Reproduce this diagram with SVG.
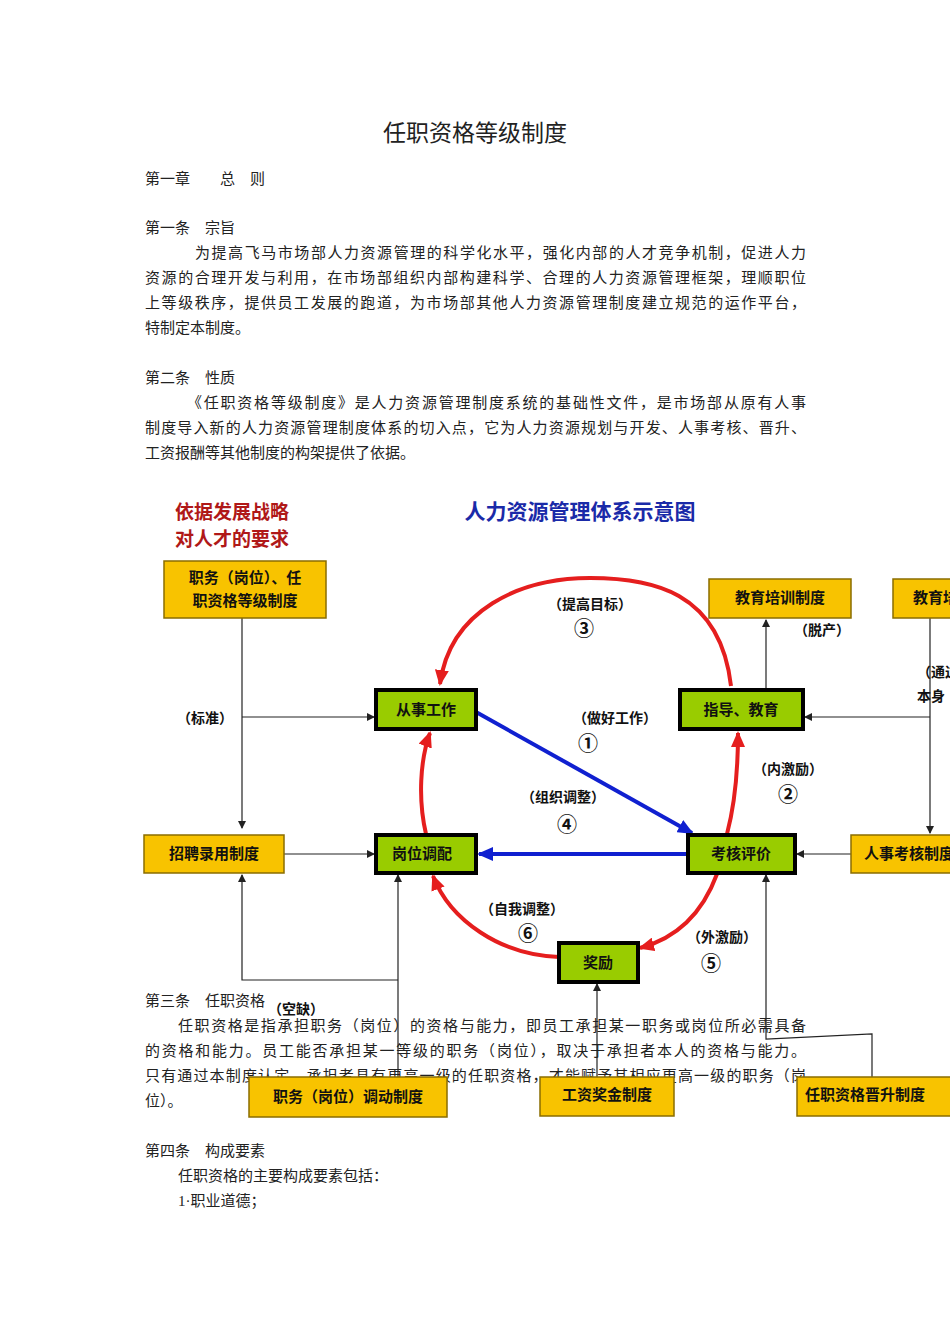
<svg xmlns="http://www.w3.org/2000/svg" width="950" height="1344" viewBox="0 0 950 1344">
<style>
.b{font-family:"Liberation Serif","Noto Sans CJK SC",serif;font-size:15px;fill:#222}
.y{fill:#f8c300;stroke:#8a6d00;stroke-width:1.5}
.g{fill:#99cc00;stroke:#000;stroke-width:4}
.t{font-family:"Noto Sans CJK SC",sans-serif;font-weight:bold;font-size:15px;fill:#111;text-anchor:middle}
.l{font-family:"Noto Sans CJK SC",sans-serif;font-weight:bold;font-size:14px;fill:#111;text-anchor:middle}
.k{stroke:#222;stroke-width:1.2;fill:none}
.r{stroke:#e51e1e;stroke-width:4;fill:none}
.bl{stroke:#1020d0;stroke-width:4;fill:none}
</style>
<defs>
<marker id="ak" markerWidth="8" markerHeight="8" refX="7" refY="4" orient="auto" markerUnits="userSpaceOnUse"><path d="M0,0L8,4L0,8z" fill="#222"/></marker>
<marker id="ar" markerWidth="16" markerHeight="14" refX="14" refY="7" orient="auto" markerUnits="userSpaceOnUse"><path d="M0,0L16,7L0,14z" fill="#e51e1e"/></marker>
<marker id="ab" markerWidth="16" markerHeight="14" refX="14" refY="7" orient="auto" markerUnits="userSpaceOnUse"><path d="M0,0L16,7L0,14z" fill="#1020d0"/></marker>
</defs>
<rect width="950" height="1344" fill="#fff"/>
<text x="475" y="141" text-anchor="middle" style="font-family:'Noto Sans CJK SC',sans-serif;font-size:23px;fill:#222">任职资格等级制度</text>
<g class="b">
<text x="145" y="184">第一章　　总　则</text>
<text x="145" y="233">第一条　宗旨</text>
<text x="195" y="258" textLength="611">为提高飞马市场部人力资源管理的科学化水平，强化内部的人才竞争机制，促进人力</text>
<text x="145" y="283" textLength="661">资源的合理开发与利用，在市场部组织内部构建科学、合理的人力资源管理框架，理顺职位</text>
<text x="145" y="308" textLength="661">上等级秩序，提供员工发展的跑道，为市场部其他人力资源管理制度建立规范的运作平台，</text>
<text x="145" y="333">特制定本制度。</text>
<text x="145" y="383">第二条　性质</text>
<text x="187" y="408" textLength="619">《任职资格等级制度》是人力资源管理制度系统的基础性文件，是市场部从原有人事</text>
<text x="145" y="433" textLength="661">制度导入新的人力资源管理制度体系的切入点，它为人力资源规划与开发、人事考核、晋升、</text>
<text x="145" y="458">工资报酬等其他制度的构架提供了依据。</text>
<text x="145" y="1006">第三条　任职资格</text>
<text x="178" y="1031" textLength="628">任职资格是指承担职务（岗位）的资格与能力，即员工承担某一职务或岗位所必需具备</text>
<text x="145" y="1056" textLength="661">的资格和能力。员工能否承担某一等级的职务（岗位），取决于承担者本人的资格与能力。</text>
<text x="145" y="1081" textLength="661">只有通过本制度认定，承担者具有更高一级的任职资格，才能赋予其相应更高一级的职务（岗</text>
<text x="145" y="1106">位）。</text>
<text x="145" y="1156">第四条　构成要素</text>
<text x="178" y="1181">任职资格的主要构成要素包括：</text>
<text x="178" y="1206">1·职业道德；</text>
</g>
<text x="232" y="519" style="font-family:'Noto Sans CJK SC',sans-serif;font-weight:bold;font-size:19px;fill:#b01818;text-anchor:middle">依据发展战略</text>
<text x="232" y="546" style="font-family:'Noto Sans CJK SC',sans-serif;font-weight:bold;font-size:19px;fill:#b01818;text-anchor:middle">对人才的要求</text>
<text x="580" y="519" style="font-family:'Noto Sans CJK SC',sans-serif;font-weight:bold;font-size:21px;fill:#1a2aa8;text-anchor:middle">人力资源管理体系示意图</text>
<g id="connectors">
<path class="k" d="M242,618V828" marker-end="url(#ak)"/>
<path class="k" d="M242,717H374" marker-end="url(#ak)"/>
<path class="k" d="M284,854H374" marker-end="url(#ak)"/>
<path class="k" d="M398,980H242V875" marker-end="url(#ak)"/>
<path class="k" d="M398,1077V875" marker-end="url(#ak)"/>
<path class="k" d="M597,1077V984" marker-end="url(#ak)"/>
<path class="k" d="M872,1077V1034L766,1039V875" marker-end="url(#ak)"/>
<path class="k" d="M766,690V620" marker-end="url(#ak)"/>
<path class="k" d="M930,618V833" marker-end="url(#ak)"/>
<path class="k" d="M930,717H805" marker-end="url(#ak)"/>
<path class="k" d="M851,854H797" marker-end="url(#ak)"/>
<path class="r" d="M731,686C720,590 650,578 590,578C520,578 450,610 440,684" marker-end="url(#ar)"/>
<path class="r" d="M426,834C418,800 420,760 430,733" marker-end="url(#ar)"/>
<path class="r" d="M727,834C736,800 738,760 738,733" marker-end="url(#ar)"/>
<path class="r" d="M717,874C700,920 670,940 640,948" marker-end="url(#ar)"/>
<path class="r" d="M559,957C500,955 450,920 433,876" marker-end="url(#ar)"/>
<path class="bl" d="M476,712L692,833" marker-end="url(#ab)"/>
<path class="bl" d="M688,854H479" marker-end="url(#ab)"/>
</g>
<g id="n1"><rect class="y" x="164" y="561" width="162" height="57"/><text class="t" x="245" y="583">职务（岗位）、任</text><text class="t" x="245" y="606">职资格等级制度</text></g>
<g id="n2"><rect class="y" x="709" y="579" width="142" height="39"/><text class="t" x="780" y="603">教育培训制度</text></g>
<g id="n3"><rect class="y" x="893" y="579" width="70" height="39"/><text class="t" x="913" y="603" style="text-anchor:start">教育培训</text></g>
<g id="n4"><rect class="g" x="376" y="690" width="100" height="39"/><text class="t" x="426" y="715">从事工作</text></g>
<g id="n5"><rect class="g" x="680" y="690" width="123" height="39"/><text class="t" x="741" y="715">指导、教育</text></g>
<g id="n6"><rect class="y" x="144" y="835" width="140" height="38"/><text class="t" x="214" y="859">招聘录用制度</text></g>
<g id="n7"><rect class="g" x="376" y="835" width="100" height="38"/><text class="t" x="422" y="859">岗位调配</text></g>
<g id="n8"><rect class="g" x="688" y="835" width="107" height="38"/><text class="t" x="741" y="859">考核评价</text></g>
<g id="n9"><rect class="y" x="851" y="835" width="110" height="38"/><text class="t" x="864" y="859" style="text-anchor:start">人事考核制度</text></g>
<g id="n10"><rect class="g" x="559" y="943" width="79" height="39"/><text class="t" x="598" y="968">奖励</text></g>
<g id="n11"><rect class="y" x="249" y="1077" width="198" height="40"/><text class="t" x="348" y="1102">职务（岗位）调动制度</text></g>
<g id="n12"><rect class="y" x="540" y="1077" width="134" height="39"/><text class="t" x="607" y="1100">工资奖金制度</text></g>
<g id="n13"><rect class="y" x="797" y="1077" width="165" height="39"/><text class="t" x="805" y="1100" style="text-anchor:start">任职资格晋升制度</text></g>
<g id="labels">
<text class="l" x="590" y="609">（提高目标）</text><text class="l" x="584" y="636" style="font-size:20px">③</text>
<text class="l" x="615" y="723">（做好工作）</text><text class="l" x="588" y="751" style="font-size:20px">①</text>
<text class="l" x="563" y="802">（组织调整）</text><text class="l" x="567" y="832" style="font-size:20px">④</text>
<text class="l" x="788" y="774">（内激励）</text><text class="l" x="788" y="802" style="font-size:20px">②</text>
<text class="l" x="522" y="914">（自我调整）</text><text class="l" x="528" y="941" style="font-size:20px">⑥</text>
<text class="l" x="722" y="942">（外激励）</text><text class="l" x="711" y="971" style="font-size:20px">⑤</text>
<text class="l" x="822" y="635">（脱产）</text>
<text class="l" x="205" y="723">（标准）</text>
<text class="l" x="917" y="677" style="text-anchor:start">（通过</text>
<text class="l" x="917" y="701" style="text-anchor:start">本身</text>
<text class="l" x="296" y="1014">（空缺）</text>
</g>
</svg>
